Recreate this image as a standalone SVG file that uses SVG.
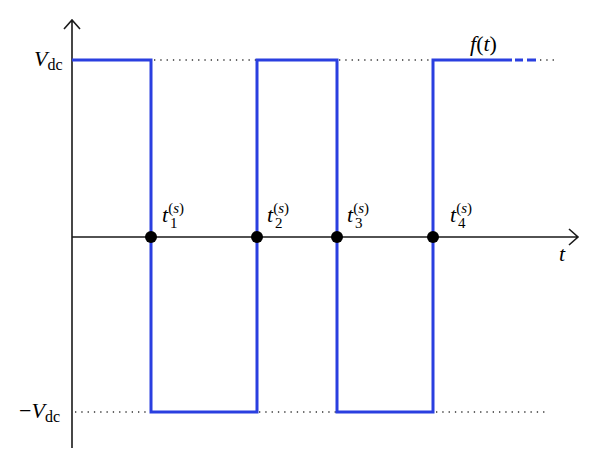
<svg xmlns="http://www.w3.org/2000/svg" width="600" height="469" viewBox="0 0 600 469">
<style>
.ax{stroke:#1a1a1a;stroke-width:1.6;fill:none}
.sig{stroke:#2a3fe0;stroke-width:3;fill:none}
.dot{stroke:#333;stroke-width:1.3;stroke-dasharray:1.3 5;fill:none}
.it{font-style:italic}
.pt{fill:#000}
</style>
<rect width="600" height="469" fill="#fff"/>
<g id="connectors">
<path class="ax" d="M72,448 V20 M64,29 L72,20 L80,29"/>
<path class="ax" d="M72,237 H578 M569,229 L578,237 L569,245"/>
<path class="dot" d="M154,60 H256 M339,60 H432 M540,60 H557"/>
<path class="dot" d="M75,412 H150 M259,412 H336 M436,412 H547"/>
<path class="sig" d="M72,60 H151 V412 H257 V60 H337 V412 H433 V60 H512"/>
<path class="sig" d="M515,60 H523 M527,60 H536"/>
</g>
<g id="points">
<circle class="pt" cx="151" cy="237" r="6"/>
<circle class="pt" cx="257" cy="237" r="6"/>
<circle class="pt" cx="337" cy="237" r="6"/>
<circle class="pt" cx="433" cy="237" r="6"/>
</g>
<g id="labels" font-family="Liberation Serif, Times New Roman, serif" fill="#000">
<text x="34" y="66" font-size="22"><tspan class="it">V</tspan><tspan font-size="16" dy="4">dc</tspan></text>
<text x="19" y="418" font-size="22">−<tspan class="it">V</tspan><tspan font-size="16" dy="4">dc</tspan></text>
<text class="it" x="470" y="51" font-size="22">f<tspan font-style="normal">(</tspan>t<tspan font-style="normal">)</tspan></text>
<text class="it" x="559" y="261" font-size="22">t</text>
<text x="162" y="222" font-size="22"><tspan class="it">t</tspan><tspan font-size="15" dy="-9">(<tspan class="it">s</tspan>)</tspan></text>
<text x="170" y="228" font-size="15">1</text>
<text x="267" y="222" font-size="22"><tspan class="it">t</tspan><tspan font-size="15" dy="-9">(<tspan class="it">s</tspan>)</tspan></text>
<text x="275" y="228" font-size="15">2</text>
<text x="347" y="222" font-size="22"><tspan class="it">t</tspan><tspan font-size="15" dy="-9">(<tspan class="it">s</tspan>)</tspan></text>
<text x="355" y="228" font-size="15">3</text>
<text x="450" y="222" font-size="22"><tspan class="it">t</tspan><tspan font-size="15" dy="-9">(<tspan class="it">s</tspan>)</tspan></text>
<text x="458" y="228" font-size="15">4</text>
</g>
</svg>
